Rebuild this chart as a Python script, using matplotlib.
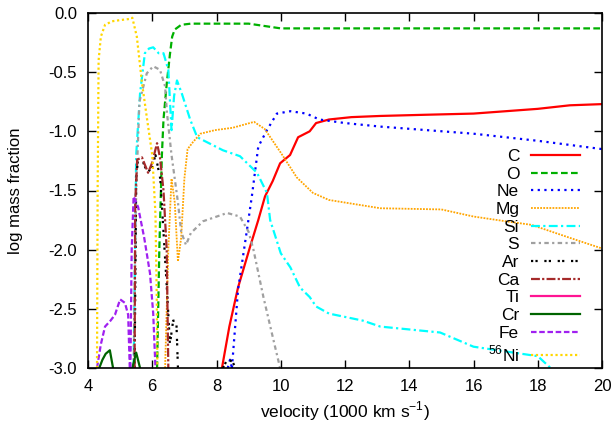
import numpy as np
import matplotlib
matplotlib.use("Agg")
from matplotlib import pyplot as plt

plt.rcParams['font.family'] = ['Liberation Sans', 'DejaVu Sans']
plt.rcParams['mathtext.fontset'] = 'custom'
plt.rcParams['mathtext.rm'] = 'Liberation Sans'

nan = np.nan

# velocity (1000 km/s) and log mass fraction per element
c_v = [8.17, 8.4, 8.67, 9.04, 9.3, 9.51, 9.75, 9.98, 10.29, 10.54, 10.9, 11.1, 11.5, 12.2, 13.1, 14.5, 16, 17, 18, 19, 20]
c_y = [-3.0, -2.65, -2.32, -1.98, -1.75, -1.55, -1.42, -1.27, -1.2, -1.05, -1.0, -0.93, -0.9, -0.88, -0.87, -0.86, -0.85, -0.83, -0.81, -0.78, -0.77]

o_v = [6.15, 6.22, 6.3, 6.35, 6.45, 6.55, 6.62, 6.7, 6.9, 7.2, 9.0, 9.5, 10.0, 12.0, 16.0, 20.0]
o_y = [-3.0, -2.0, -1.2, -0.9, -0.6, -0.35, -0.2, -0.14, -0.1, -0.09, -0.09, -0.11, -0.13, -0.13, -0.13, -0.13]

ne_v = [8.35, 8.42, 8.48, nan, 8.48, 8.67, 8.95, 9.1, 9.3, 9.57, 9.88, 10.3, 10.8, 11.2, 12.0, 13.1, 16.0, 18.0, 20.0]
ne_y = [-3.0, -2.93, -3.0, nan, -3.0, -2.34, -1.83, -1.55, -1.13, -0.99, -0.85, -0.83, -0.85, -0.9, -0.93, -0.96, -1.02, -1.08, -1.15]

mg_v = [6.4, 6.5, 6.6, 6.7, 6.8, 6.9, 7.0, 7.1, 7.27, 7.5, 7.95, 8.5, 9.17, 9.5, 10.0, 10.5, 11.0, 11.5, 13.1, 15.0, 16.0, 17.0, 17.8, 19.0, 20.0]
mg_y = [-3.0, -2.0, -1.4, -1.6, -2.1, -1.9, -1.4, -1.15, -1.09, -1.02, -0.99, -0.97, -0.92, -0.98, -1.18, -1.39, -1.52, -1.58, -1.65, -1.66, -1.72, -1.76, -1.79, -1.9, -1.99]

si_v = [5.42, 5.5, 5.62, 5.77, 5.9, 6.03, 6.2, 6.35, 6.5, 6.6, 6.68, 6.77, 6.92, 7.18, 7.4, 8.2, 8.73, 9.26, 9.57, 9.67, 10.0, 10.3, 10.6, 10.9, 11.1, 11.5, 12.56, 13.1, 14.96, 16.0, 17.0, 18.0, 18.4]
si_y = [-3.0, -1.2, -0.68, -0.34, -0.3, -0.29, -0.34, -0.34, -0.48, -0.99, -0.7, -0.57, -0.68, -0.9, -1.05, -1.16, -1.21, -1.35, -1.52, -1.75, -2.03, -2.15, -2.32, -2.4, -2.48, -2.54, -2.6, -2.65, -2.7, -2.82, -2.86, -2.9, -3.0]

s_v = [5.42, 5.5, 5.6, 5.83, 6.03, 6.24, 6.4, 6.46, 6.6, 6.8, 6.9, 7.05, 7.2, 7.58, 8.33, 8.73, 9.0, 9.15, 9.46, 9.77, 9.98]
s_y = [-3.0, -1.5, -0.75, -0.51, -0.45, -0.48, -0.62, -0.85, -1.2, -1.6, -1.85, -1.96, -1.86, -1.76, -1.69, -1.72, -1.85, -2.0, -2.4, -2.76, -3.0]

ar_v = [5.45, 5.5, 5.55, 5.7, 5.85, 6.0, 6.1, 6.25, 6.45, 6.55, 6.65, 6.75, 6.8, nan, 8.2, 8.35, 8.5, 8.6]
ar_y = [-3.0, -1.4, -1.25, -1.25, -1.35, -1.3, -1.2, -1.4, -2.3, -2.8, -2.6, -2.6, -3.0, nan, -3.0, -2.92, -2.95, -3.0]

ca_v = [5.45, 5.47, 5.53, 5.68, 5.87, 5.99, 6.15, 6.24, 6.35, 6.45, 6.5]
ca_y = [-3.0, -1.6, -1.24, -1.22, -1.35, -1.27, -1.1, -1.22, -1.5, -2.0, -3.0]

# titanium stays below the plotted range
ti_v = [5.5, 6.0, 6.5]
ti_y = [-3.4, -3.3, -3.4]

cr_v = [4.35, 4.45, 4.55, 4.68, 4.78, nan, 5.38, 5.5, 5.62]
cr_y = [-3.0, -2.93, -2.88, -2.85, -3.0, nan, -3.0, -2.87, -3.0]

fe_v = [4.28, 4.4, 4.53, 4.7, 4.84, 5.0, 5.15, 5.25, 5.3, nan, 5.32, 5.36, 5.42, 5.56, 5.75, 5.93, 6.03, 6.1]
fe_y = [-3.0, -2.8, -2.65, -2.6, -2.55, -2.42, -2.45, -2.55, -3.0, nan, -3.0, -2.0, -1.55, -1.64, -1.9, -2.2, -2.54, -3.0]

ni_v = [4.28, 4.3, 4.33, 4.4, 4.53, 4.75, 5.0, 5.3, 5.38, 5.52, 5.68, 5.83, 6.0, 6.1, 6.14, 6.16]
ni_y = [-3.0, -1.5, -0.4, -0.2, -0.1, -0.07, -0.06, -0.05, -0.04, -0.2, -0.59, -0.88, -1.2, -1.7, -2.4, -3.0]

labels = ["C", "O", "Ne", "Mg", "Si", "S", "Ar", "Ca", "Ti", "Cr", "Fe", r"$^{56}$Ni"]

fig = plt.figure(figsize=(6.14, 4.24), dpi=100)
ax = fig.add_axes([88/614, 1-368/424, (602-88)/614, (368-13)/424])

ax.plot(c_v, c_y, color="#ff0000", lw=1.6, ls="-", label=labels[0])
ax.plot(o_v, o_y, color="#00b000", lw=1.6, ls=(0, (3, 1.5)), label=labels[1])
ax.plot(ne_v, ne_y, color="#0000ff", lw=1.6, ls=(0, (1, 2)), label=labels[2])
ax.plot(mg_v, mg_y, color="#ffa500", lw=1.3, ls=(0, (1, 0.7)), label=labels[3])
ax.plot(si_v, si_y, color="#00ffff", lw=1.6, ls=(0, (4, 1.5, 1, 1.5)), label=labels[4])
ax.plot(s_v, s_y, color="#a0a0a0", lw=1.6, ls=(0, (2, 1.5, 1, 1.5)), label=labels[5])
ax.plot(ar_v, ar_y, color="#000000", lw=1.6, ls=(0, (1, 1, 1, 3)), label=labels[6])
ax.plot(ca_v, ca_y, color="#a52a2a", lw=1.6, ls=(0, (4, 1, 1, 1)), label=labels[7])
ax.plot(ti_v, ti_y, color="#ff1493", lw=1.6, ls="-", label=labels[8])
ax.plot(cr_v, cr_y, color="#006400", lw=1.6, ls="-", label=labels[9])
ax.plot(fe_v, fe_y, color="#a020f0", lw=1.6, ls=(0, (2.5, 1.2)), label=labels[10])
ax.plot(ni_v, ni_y, color="#ffd700", lw=1.6, ls=(0, (1, 1.2)), label=labels[11])

ax.set_xlim(4, 20)
ax.set_ylim(-3, 0)
ax.set_xticks(np.arange(4, 21, 2))
ax.set_yticks(np.arange(-3, 0.01, 0.5))
ax.set_yticklabels(["%.1f" % t for t in np.arange(-3, 0.01, 0.5)])
ax.tick_params(direction="in", top=True, right=True, length=6, width=1, labelsize=12, pad=8)
for s in ax.spines.values():
    s.set_linewidth(1.2)
ax.set_xlabel(r"velocity (1000 km s$^{-1}$)", fontsize=12.5, labelpad=4)
ax.set_ylabel("log mass fraction", fontsize=12, labelpad=18)

leg = ax.legend(loc="upper right", bbox_to_anchor=(0.957, 0.617), frameon=False,
                markerfirst=False, fontsize=12.5, handlelength=2.8,
                labelspacing=0.145, handletextpad=0.7, borderaxespad=0, borderpad=0)
for t in leg.get_texts():
    t.set_ha("right")

fig.savefig("out.png", dpi=100)
